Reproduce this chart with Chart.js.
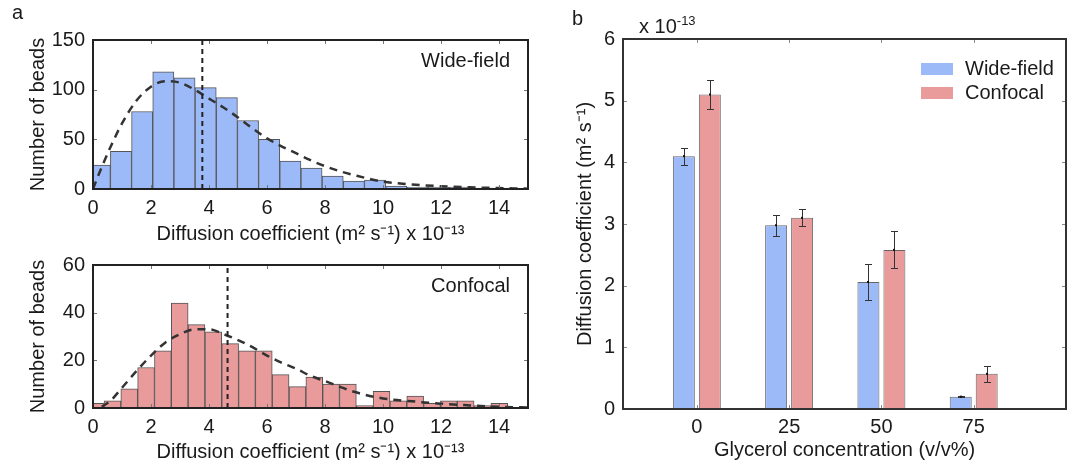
<!DOCTYPE html>
<html><head><meta charset="utf-8">
<script src="https://cdn.jsdelivr.net/npm/chart.js@4.4.1/dist/chart.umd.min.js"></script>
<style>
html,body{margin:0;padding:0;background:#fff;width:1072px;height:460px;overflow:hidden;font-family:"Liberation Sans",Arial,sans-serif;color:#1a1a1a}
canvas{position:absolute}
.lbl{position:absolute;font-size:20px;line-height:1;white-space:nowrap}
.lbl sup{font-size:13px;position:relative;top:-8px;vertical-align:0;line-height:0}
</style></head><body>
<canvas id="cA" width="545" height="245" style="left:0;top:0"></canvas>
<canvas id="cB" width="545" height="215" style="left:0;top:245px"></canvas>
<canvas id="cC" width="527" height="460" style="left:545px;top:0"></canvas>
<div class="lbl" style="left:12px;top:2px">a</div>
<div class="lbl" style="left:572px;top:8px">b</div>
<div class="lbl" style="left:639px;top:16px">x 10<sup>-13</sup></div>
<script>
// ---------- data ----------
const wfBinCenters = [0.235, 0.965, 1.695, 2.425, 3.155, 3.885, 4.615, 5.345, 6.075, 6.805, 7.535, 8.265, 8.995, 9.725, 10.455, 11.185, 11.915, 12.645, 13.375, 14.105];
const wfCounts     = [24, 38, 78, 118, 112, 102, 92, 69, 50, 28, 21, 13, 8, 9, 3, 2, 2, 2, 1, 1];
const wfFitX = [0, 0.3, 0.6, 1.0, 1.5, 2.0, 2.5, 3.0, 3.5, 4.0, 4.5, 5.0, 5.5, 6.0, 6.5, 7.0, 7.5, 8.0, 8.5, 9.0, 10, 11, 12, 13, 14, 15];
const wfFitY = [0, 22, 42, 66, 89, 103, 108.5, 107, 100, 91, 82, 72, 61, 51, 43, 36, 29, 23, 18, 14, 7.5, 4.6, 2.8, 1.7, 0.9, 0.3];
const wfMean = 3.77;

const cfBinCenters = [0.09, 0.67, 1.25, 1.83, 2.41, 2.99, 3.57, 4.15, 4.73, 5.31, 5.89, 6.47, 7.05, 7.63, 8.21, 8.79, 9.37, 9.95, 10.53, 11.11, 11.69, 12.27, 12.85, 13.43, 14.01];
const cfCounts     = [2, 3, 8, 17, 24, 44, 35, 32, 27, 24, 24, 14, 9, 13, 10, 10, 1, 7, 3, 5, 2, 3, 3, 1, 2];
const cfFitX = [0.3, 0.6, 1.0, 1.5, 2.0, 2.5, 3.0, 3.5, 4.0, 4.5, 5.0, 5.5, 6.0, 6.5, 7.0, 7.5, 8.0, 8.5, 9.0, 10, 11, 12, 13, 14, 15];
const cfFitY = [0.5, 3, 8.5, 15.5, 22, 27.5, 31, 33, 33, 31, 28.5, 25.5, 22, 19, 16.5, 13.5, 11.3, 9, 6.8, 4.0, 2.8, 1.8, 1.1, 0.5, 0.2];
const cfMean = 4.64;

const histXTicks = [0, 2, 4, 6, 8, 10, 12, 14];
const wfYTicks = [0, 50, 100, 150];
const cfYTicks = [0, 20, 40, 60];

const glycerol = [0, 25, 50, 75];
const wideMean = [4.10, 2.98, 2.06, 0.20];
const wideErr  = [0.14, 0.17, 0.29, 0.01];
const confMean = [5.10, 3.10, 2.58, 0.57];
const confErr  = [0.24, 0.14, 0.30, 0.13];
const bYTicks = [0, 1, 2, 3, 4, 5, 6];

// ---------- style ----------
const FONT = '"Liberation Sans", Arial, sans-serif';
const FS = 20;
const TXT = '#1a1a1a';
const BLUE = '#9cb9f8';
const RED = '#e99a9a';
Chart.defaults.font.family = FONT;
Chart.defaults.color = TXT;

const framePlugin = {
  id: 'frame',
  afterDatasetsDraw(chart, args, o) {
    const {ctx, chartArea: a, scales: {x, y}} = chart;
    ctx.save();
    ctx.strokeStyle = o.tickColor; ctx.lineWidth = 1;
    ctx.beginPath();
    x.ticks.forEach(t => {
      const p = Math.round(x.getPixelForValue(t.value)) + 0.5;
      ctx.moveTo(p, a.bottom); ctx.lineTo(p, a.bottom - o.len);
      ctx.moveTo(p, a.top); ctx.lineTo(p, a.top + o.len);
    });
    y.ticks.forEach(t => {
      const p = Math.round(y.getPixelForValue(t.value)) + 0.5;
      ctx.moveTo(a.left, p); ctx.lineTo(a.left + o.len, p);
      ctx.moveTo(a.right, p); ctx.lineTo(a.right - o.len, p);
    });
    ctx.stroke();
    ctx.strokeStyle = o.color; ctx.lineWidth = o.width;
    ctx.strokeRect(a.left, a.top, a.right - a.left, a.bottom - a.top);
    ctx.restore();
  }
};

const cornerText = {
  id: 'cornerText',
  afterDraw(chart, args, o) {
    if (!o.text) return;
    const {ctx, chartArea: a} = chart;
    ctx.save();
    ctx.font = FS + 'px ' + FONT; ctx.fillStyle = TXT;
    ctx.textAlign = 'right'; ctx.textBaseline = 'middle';
    ctx.fillText(o.text, a.right - o.dx, a.top + o.dy);
    ctx.restore();
  }
};

function histChart(id, centers, counts, fitX, fitY, mean, yTicks, fill, label, padTop, xH, xTitlePad) {
  const yMax = yTicks[yTicks.length - 1];
  return new Chart(document.getElementById(id), {
    type: 'bar',
    data: { datasets: [
      { type: 'bar', label: label, data: centers.map((x, i) => ({x: x, y: counts[i]})),
        backgroundColor: fill, borderColor: '#555', borderWidth: 1, borderSkipped: false,
        barPercentage: 1, categoryPercentage: 1, order: 3 },
      { type: 'line', label: 'fit', data: fitX.map((x, i) => ({x: x, y: fitY[i]})),
        borderColor: '#333', borderWidth: 2.5, borderDash: [8, 6], pointRadius: 0,
        cubicInterpolationMode: 'monotone', fill: false, order: 2 },
      { type: 'line', label: 'mean', data: [{x: mean, y: 0}, {x: mean, y: yMax}],
        borderColor: '#222', borderWidth: 2, borderDash: [5, 4], pointRadius: 0, fill: false, order: 1 }
    ]},
    options: {
      responsive: false, animation: false, devicePixelRatio: 1,
      layout: { padding: { left: 0, top: padTop, right: 17, bottom: 0 } },
      plugins: {
        legend: { display: false }, tooltip: { enabled: false },
        frame: { color: '#222', width: 2, tickColor: '#777', len: 4 },
        cornerText: { text: label, dx: 18, dy: 21 }
      },
      scales: {
        x: { type: 'linear', min: 0, max: 15, offset: false,
          afterBuildTicks: s => { s.ticks = histXTicks.map(v => ({value: v})); },
          afterFit: s => { s.height = xH; },
          grid: { display: false, drawTicks: false, offset: false }, border: { display: false },
          ticks: { padding: 7, maxRotation: 0, autoSkip: false, font: { size: FS }, color: TXT },
          title: { display: true, text: 'Diffusion coefficient (m² s⁻¹) x 10⁻¹³', color: TXT,
            font: { size: FS, lineHeight: 1 }, padding: { top: 0, bottom: xTitlePad } } },
        y: { type: 'linear', min: 0, max: yMax,
          afterBuildTicks: s => { s.ticks = yTicks.map(v => ({value: v})); },
          afterFit: s => { s.width = 93; },
          grid: { display: false, drawTicks: false }, border: { display: false },
          ticks: { padding: 8, font: { size: FS }, color: TXT },
          title: { display: true, text: 'Number of beads', color: TXT,
            font: { size: FS, lineHeight: 1 }, padding: { top: 28, bottom: 0 } } }
      }
    },
    plugins: [framePlugin, cornerText]
  });
}

histChart('cA', wfBinCenters, wfCounts, wfFitX, wfFitY, wfMean, wfYTicks, BLUE, 'Wide-field', 40, 56, 1);
histChart('cB', cfBinCenters, cfCounts, cfFitX, cfFitY, cfMean, cfYTicks, RED, 'Confocal', 13, 52, -2);

const errorBars = {
  id: 'errorBars',
  afterDatasetsDraw(chart, args, o) {
    const {ctx, scales: {y}} = chart;
    ctx.save();
    chart.data.datasets.forEach((ds, di) => {
      const meta = chart.getDatasetMeta(di);
      const errs = o.errors[di];
      meta.data.forEach((bar, j) => {
        const v = ds.data[j].y, e = errs[j];
        const x = Math.round(bar.x) + 0.5;
        const yt = Math.round(y.getPixelForValue(v + e)) + 0.5;
        const yb = Math.round(y.getPixelForValue(v - e)) + 0.5;
        ctx.strokeStyle = o.color; ctx.lineWidth = 1;
        ctx.beginPath();
        ctx.moveTo(x, yt); ctx.lineTo(x, yb);
        ctx.moveTo(x - o.cap, yt); ctx.lineTo(x + o.cap, yt);
        ctx.moveTo(x - o.cap, yb); ctx.lineTo(x + o.cap, yb);
        ctx.stroke();
        ctx.fillStyle = '#111';
        ctx.fillRect(x - 1.5, y.getPixelForValue(v) - 1, 2, 2);
      });
    });
    ctx.restore();
  }
};

const boxLegend = {
  id: 'boxLegend',
  afterDraw(chart, args, o) {
    const {ctx, chartArea: a} = chart;
    ctx.save();
    chart.data.datasets.forEach((ds, i) => {
      const bx = a.right - o.right;
      const cy = a.top + o.top + i * o.gap;
      ctx.fillStyle = ds.backgroundColor;
      ctx.fillRect(bx, cy - 6, 32, 12);
      ctx.fillStyle = TXT;
      ctx.font = FS + 'px ' + FONT;
      ctx.textAlign = 'left'; ctx.textBaseline = 'middle';
      ctx.fillText(ds.label, bx + 44, cy);
    });
    ctx.restore();
  }
};

new Chart(document.getElementById('cC'), {
  type: 'bar',
  data: { datasets: [
    { label: 'Wide-field', data: glycerol.map((g, i) => ({x: g, y: wideMean[i]})),
      backgroundColor: BLUE, borderColor: '#666', borderWidth: 1, borderSkipped: false,
      categoryPercentage: 0.563, barPercentage: 0.846 },
    { label: 'Confocal', data: glycerol.map((g, i) => ({x: g, y: confMean[i]})),
      backgroundColor: RED, borderColor: '#666', borderWidth: 1, borderSkipped: false,
      categoryPercentage: 0.563, barPercentage: 0.846 }
  ]},
  options: {
    responsive: false, animation: false, devicePixelRatio: 1,
    layout: { padding: { left: 0, top: 39, right: 6, bottom: 0 } },
    plugins: {
      legend: { display: false }, tooltip: { enabled: false },
      frame: { color: '#333', width: 2, tickColor: '#888', len: 4 },
      errorBars: { errors: [wideErr, confErr], color: '#333', cap: 3.5 },
      boxLegend: { right: 145, top: 30, gap: 24 }
    },
    scales: {
      x: { type: 'linear', min: -20, max: 100, offset: false,
        afterBuildTicks: s => { s.ticks = glycerol.map(v => ({value: v})); },
        afterFit: s => { s.height = 51; },
        grid: { display: false, drawTicks: false, offset: false }, border: { display: false },
        ticks: { padding: 6, maxRotation: 0, autoSkip: false, font: { size: FS }, color: TXT },
        title: { display: true, text: 'Glycerol concentration (v/v%)', color: TXT,
          font: { size: FS, lineHeight: 1 }, padding: { top: 0, bottom: 0 } } },
      y: { type: 'linear', min: 0, max: 6,
        afterBuildTicks: s => { s.ticks = bYTicks.map(v => ({value: v})); },
        afterFit: s => { s.width = 78; },
        grid: { display: false, drawTicks: false }, border: { display: false },
        ticks: { padding: 8, font: { size: FS }, color: TXT },
        title: { display: true, text: 'Diffusion coefficient (m² s⁻¹)', color: TXT,
          font: { size: FS, lineHeight: 1 }, padding: { top: 30, bottom: 0 } } }
    }
  },
  plugins: [framePlugin, errorBars, boxLegend]
});
</script>
</body></html>
